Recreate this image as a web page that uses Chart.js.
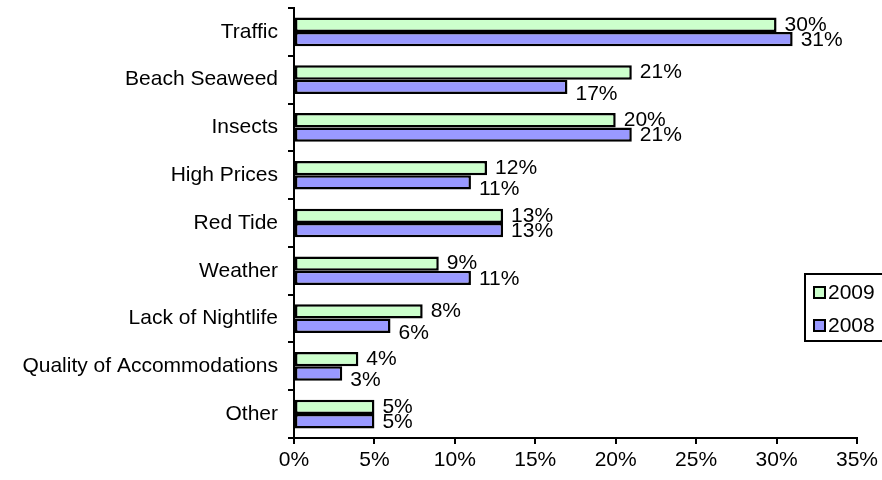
<!DOCTYPE html>
<html lang="en">
<head>
    <meta charset="UTF-8">
    <title>Complaints 2008 vs 2009</title>
    <style>
        html, body {
            margin: 0;
            padding: 0;
            background: #fff;
        }
        .chart-box {
            width: 882px;
            height: 480px;
        }
    </style>
</head>
<body>
    <div class="chart-box">
        <canvas id="mychart"></canvas>
    </div>

    <script src="https://cdn.jsdelivr.net/npm/chart.js@4/dist/chart.umd.min.js"></script>
    <script>
        // categories
        const categories = ['Traffic', 'Beach Seaweed', 'Insects', 'High Prices', 'Red Tide',
            'Weather', 'Lack of Nightlife', 'Quality of Accommodations', 'Other'];
        // series (percent)
        const values2009 = [30, 21, 20, 12, 13, 9, 8, 4, 5];
        const values2008 = [31, 17, 21, 11, 13, 11, 6, 3, 5];
        // x axis ticks
        const xTicks = [0, 5, 10, 15, 20, 25, 30, 35];

        const FONT = "'Liberation Sans', Arial, sans-serif";
        Chart.defaults.font.family = FONT;
        Chart.defaults.font.size = 21;
        Chart.defaults.color = '#000';

        // value labels after each bar
        const valueLabels = {
            id: 'valueLabels',
            afterDatasetsDraw(chart) {
                const ctx = chart.ctx;
                ctx.save();
                ctx.font = '21px ' + FONT;
                ctx.fillStyle = '#000';
                ctx.textAlign = 'left';
                ctx.textBaseline = 'middle';
                chart.data.datasets.forEach((ds, di) => {
                    const meta = chart.getDatasetMeta(di);
                    meta.data.forEach((bar, i) => {
                        let dy = 0;
                        // 2008 label sits a bit lower when its bar is the shorter one
                        if (di == 1) dy = values2008[i] < values2009[i] ? 7 : 1;
                        ctx.fillText(ds.data[i] + '%', bar.x + 8, bar.y + dy);
                    });
                });
                ctx.restore();
            }
        };

        // boxed legend on the right, partly cut off like the original
        const boxLegend = {
            id: 'boxLegend',
            afterDraw(chart) {
                const ctx = chart.ctx;
                ctx.save();
                ctx.lineWidth = 2;
                ctx.strokeStyle = '#000';
                ctx.strokeRect(805, 274, 90, 67);
                ctx.font = '21px ' + FONT;
                ctx.textBaseline = 'middle';
                ctx.textAlign = 'left';
                const items = [
                    { text: '2009', color: '#CCFFCC', y: 292 },
                    { text: '2008', color: '#9999FF', y: 325 },
                ];
                for (let it of items) {
                    ctx.fillStyle = it.color;
                    ctx.fillRect(814, it.y - 5, 11, 11);
                    ctx.strokeRect(814, it.y - 5, 11, 11);
                    ctx.fillStyle = '#000';
                    ctx.fillText(it.text, 828, it.y + 1);
                }
                ctx.restore();
            }
        };

        new Chart(document.getElementById('mychart'), {
            type: 'bar',
            data: {
                labels: categories,
                datasets: [
                    {
                        label: '2009',
                        data: values2009,
                        backgroundColor: '#CCFFCC',
                        borderColor: '#000',
                        borderWidth: 2.5,
                        borderSkipped: false,
                    },
                    {
                        label: '2008',
                        data: values2008,
                        backgroundColor: '#9999FF',
                        borderColor: '#000',
                        borderWidth: 2.5,
                        borderSkipped: false,
                    },
                ],
            },
            options: {
                indexAxis: 'y',
                responsive: true,
                maintainAspectRatio: false,
                animation: false,
                categoryPercentage: 0.6,
                barPercentage: 1,
                layout: {
                    padding: { top: 8, right: 25, left: 0, bottom: 0 },
                },
                plugins: {
                    legend: { display: false },
                    tooltip: { enabled: false },
                },
                scales: {
                    x: {
                        min: 0,
                        max: 35,
                        afterBuildTicks(scale) {
                            scale.ticks = xTicks.map(v => ({ value: v }));
                        },
                        afterFit(scale) {
                            scale.height = 42;
                        },
                        ticks: {
                            padding: 4,
                            callback: v => v + '%',
                        },
                        grid: {
                            drawOnChartArea: false,
                            drawTicks: true,
                            tickLength: 6,
                            color: '#000',
                            lineWidth: 2,
                        },
                        border: { color: '#000', width: 2 },
                    },
                    y: {
                        afterFit(scale) {
                            scale.width = 294;
                            // no extra room above/below for the first and last label
                            scale.paddingTop = 0;
                            scale.paddingBottom = 0;
                        },
                        ticks: {
                            padding: 10,
                        },
                        grid: {
                            drawOnChartArea: false,
                            drawTicks: true,
                            tickLength: 6,
                            color: '#000',
                            lineWidth: 2,
                        },
                        border: { color: '#000', width: 2 },
                    },
                },
            },
            plugins: [valueLabels, boxLegend],
        });
    </script>
</body>
</html>
